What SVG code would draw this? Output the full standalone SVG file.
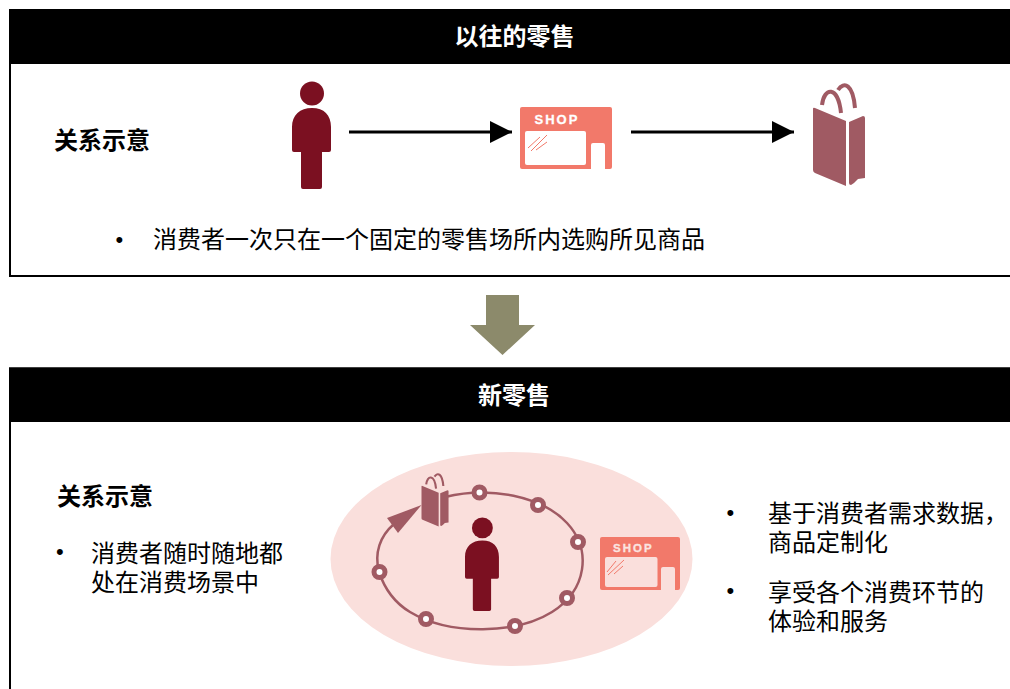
<svg xmlns="http://www.w3.org/2000/svg" width="1010" height="689" viewBox="0 0 1010 689">
<defs>
<style>
.cjk{font-family:"Noto Sans CJK SC",sans-serif;font-size:24px;fill:#000}
.b{font-weight:700}
.h{font-family:"Noto Sans CJK SC",sans-serif;font-size:24px;font-weight:700;fill:#fff;text-anchor:middle}
.bu{font-family:"Liberation Sans",sans-serif;font-size:22px;fill:#000}
.person{fill:#7b1021}
.shop{fill:#f2796a}
.bag{fill:#a05a63}
.conn{stroke:#000;stroke-width:3;fill:none}
.ring{stroke:#a05a63;stroke-width:2.500;fill:none}
.dot{fill:#fff;stroke:#a05a63;stroke-width:5}
.shoptxt{font-family:"Liberation Sans",sans-serif;font-weight:700;fill:#fbe4e0;stroke:#fbe4e0;stroke-width:.3}
</style>
<marker id="ah" markerUnits="userSpaceOnUse" markerWidth="22" markerHeight="22" refX="22" refY="11" orient="auto"><path d="M0 0L22 11L0 22Z" fill="#000"/></marker>
<g id="personShape">
<circle cx="20" cy="12.500" r="12"/>
<path d="M0 66V46C0 34 8 27 20 27S39 34 39 46V69Q39 71 37 71H30V106Q30 108 28 108H11Q9 108 9 106V71H2Q0 71 0 69Z"/>
</g>
<g id="bagShape">
<path d="M0 2Q0 0 2 1L33 14V79L2 66Q0 65 0 63Z"/>
<path d="M36 15L50 9Q52 9 52 11V71L45 72L41 76L38 78Q36 78 36 76Z"/>
<path d="M9 -2C11 -20 25 -22 28 6" fill="none" stroke="#a05a63" stroke-width="4"/>
<path d="M25 -17C31 -26 40 -23 42 1" fill="none" stroke="#a05a63" stroke-width="4"/>
</g>
</defs>
<rect width="1010" height="689" fill="#fff"/>

<g id="panel-old">
<rect x="10" y="10" width="1010" height="266" fill="#fff" stroke="#000" stroke-width="2"/>
<rect x="9" y="9.500" width="1001" height="54.500" fill="#000"/>
<text class="h" x="514.500" y="45">以往的零售</text>
<text class="cjk b" x="54" y="149">关系示意</text>
<text class="bu" x="115.500" y="247">•</text>
<text class="cjk" x="153" y="248">消费者一次只在一个固定的零售场所内选购所见商品</text>
</g>

<g id="person-old" class="person"><use href="#personShape" x="292" y="81"/></g>

<g id="shop-old">
<rect x="520" y="107" width="92" height="62" rx="2" class="shop"/>
<rect x="525" y="131" width="61" height="34" rx="2" fill="#fff"/>
<path d="M591 169V145Q591 143 593 143H603Q605 143 605 145V169Z" fill="#fff"/>
<text class="shoptxt" x="534.500" y="124" font-size="13" letter-spacing="2" style="fill:#fff;stroke:#fff">SHOP</text>
<path d="M528 148L540 137M531 151L547 135M536 150L547 142" stroke="#f2796a" stroke-width="1" fill="none"/>
</g>

<g id="bag-old" class="bag"><use href="#bagShape" x="813" y="107"/></g>

<g id="connectors">
<line x1="349" y1="132" x2="512" y2="132" class="conn" marker-end="url(#ah)"/>
<line x1="631" y1="132" x2="794" y2="132" class="conn" marker-end="url(#ah)"/>
</g>

<g id="transition">
<path d="M486 295H519V325H535L502.500 355L470 325H486Z" fill="#8c8a6b"/>
</g>

<g id="panel-new">
<path d="M1010 368.500H10V689" fill="none" stroke="#000" stroke-width="2"/>
<rect x="9" y="367.500" width="1001" height="54.500" fill="#000"/>
<text class="h" x="514" y="404">新零售</text>
<text class="cjk b" x="57" y="505">关系示意</text>
<text class="bu" x="56" y="559">•</text>
<text class="cjk" x="91" y="562">消费者随时随地都<tspan x="91" dy="29">处在消费场景中</tspan></text>
<text class="bu" x="726.500" y="520">•</text>
<text class="cjk" x="768" y="522">基于消费者需求数据，<tspan x="768" dy="29">商品定制化</tspan></text>
<text class="bu" x="726.500" y="598">•</text>
<text class="cjk" x="768" y="601">享受各个消费环节的<tspan x="768" dy="29">体验和服务</tspan></text>
</g>

<g id="cycle">
<ellipse cx="511.500" cy="559" rx="181" ry="107" fill="#fadfdc"/>
<path d="M379 572C374 553 380 536 394 524" class="ring"/>
<path d="M421.500 505L387 518L398 533Z" fill="#a05a63"/>
<path d="M445 497C490 486 542 496 567 523C592 550 587 590 552 612C517 634 450 636 410 612C395 603 385 590 379 572" class="ring"/>
<circle cx="479.500" cy="492.500" r="5.500" class="dot"/>
<circle cx="538" cy="505" r="5.500" class="dot"/>
<circle cx="578" cy="542" r="5.500" class="dot"/>
<circle cx="567" cy="598" r="5.500" class="dot"/>
<circle cx="515" cy="626" r="5.500" class="dot"/>
<circle cx="426" cy="619" r="5.500" class="dot"/>
<circle cx="379.500" cy="572" r="5.500" class="dot"/>
</g>

<g id="bag-new" class="bag"><use href="#bagShape" transform="translate(421.500 485.500) scale(.52 .52)"/></g>

<g id="person-new" class="person"><use href="#personShape" transform="translate(465 517) scale(.87 .87)"/></g>

<g id="shop-new">
<rect x="600" y="537" width="80" height="53" rx="2" class="shop"/>
<rect x="605" y="557" width="52.500" height="30" rx="2" fill="#fadfdc"/>
<path d="M661 590V569Q661 567 663 567H673Q675 567 675 569V590Z" fill="#fadfdc"/>
<text class="shoptxt" x="613" y="552" font-size="11.500" letter-spacing="2">SHOP</text>
<path d="M607 572L616 561M608 575L624 560M614 574L623 566" stroke="#f2796a" stroke-width="1" fill="none"/>
</g>
</svg>
